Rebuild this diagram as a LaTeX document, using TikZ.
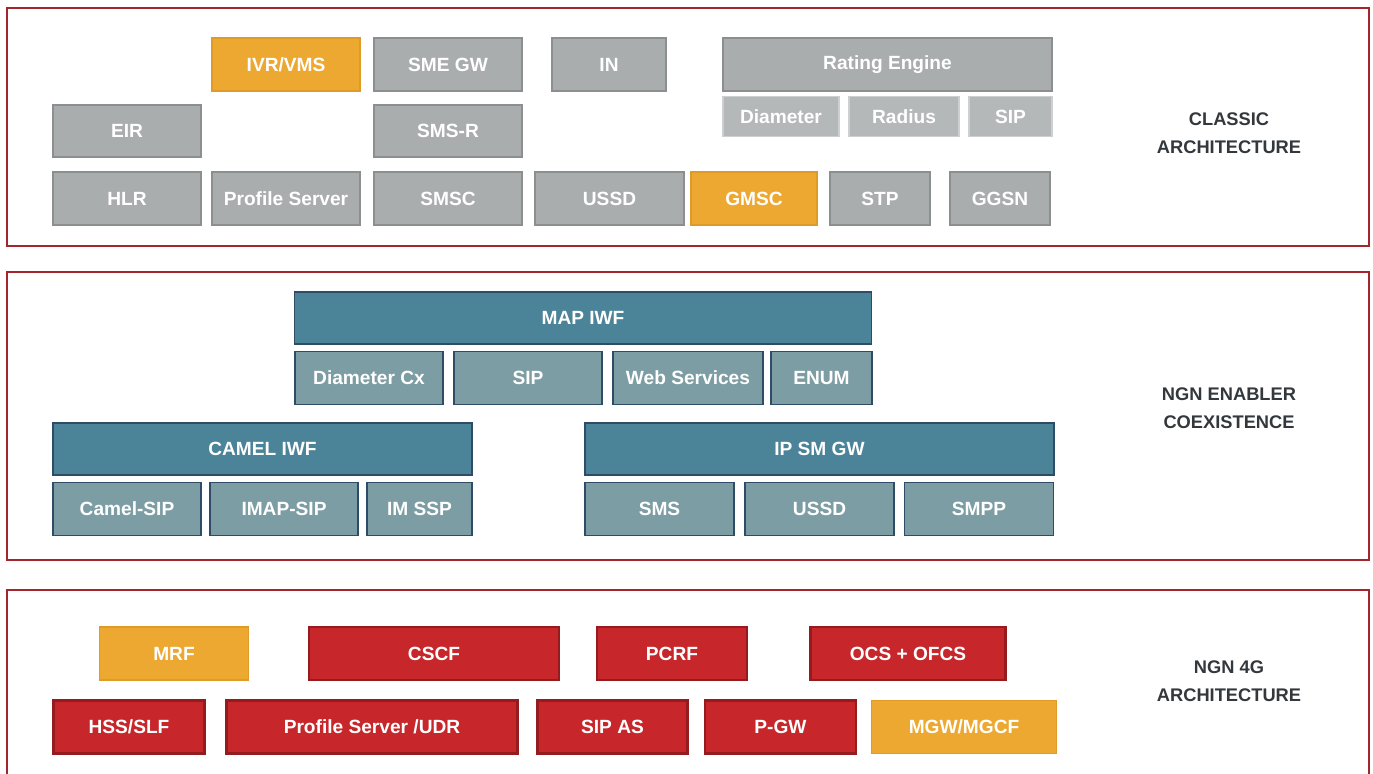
\documentclass[tikz,border=0pt]{standalone}
\usepackage{fontspec}
\setmainfont{Liberation Sans}
\usepackage{xcolor}
\usepackage{tikz}

\definecolor{gfill}{HTML}{AAADAE}
\definecolor{gline}{HTML}{8C8F90}
\definecolor{lgfill}{HTML}{B5B8B9}
\definecolor{lgline}{HTML}{CDD0D0}
\definecolor{ofill}{HTML}{EDA831}
\definecolor{oline}{HTML}{E09A26}
\definecolor{tfill}{HTML}{4B8398}
\definecolor{tline}{HTML}{2E4C66}
\definecolor{ltfill}{HTML}{7C9DA3}
\definecolor{rfill}{HTML}{C7262A}
\definecolor{rline}{HTML}{951B1F}
\definecolor{framecol}{HTML}{A2262C}
\definecolor{labcol}{HTML}{33383D}

\tikzset{
	blk/.style={draw, inner sep=0pt, text=white, line width=0.85pt,
		font=\fontsize{13.6}{16}\selectfont\bfseries,
		minimum height=53*0.025cm},
	bw/.style={minimum width=#1*0.025cm},
	bh/.style={minimum height=#1*0.025cm},
	gbox/.style={blk, fill=gfill, draw=gline},
	lgbox/.style={blk, fill=lgfill, draw=lgline, bh=40},
	obox/.style={blk, fill=ofill, draw=oline},
	tbox/.style={blk, fill=tfill, draw=tline, bh=52},
	ltbox/.style={blk, fill=ltfill, draw=tline},
	rbox/.style={blk, fill=rfill, draw=rline, line width=1.5pt},
	frame/.style={draw=framecol, line width=0.75pt},
	layer/.style={text=labcol, align=center,
		font=\fontsize{13}{19.8}\selectfont\bfseries}
}

\begin{document}
\begin{tikzpicture}[x=0.025cm, y=-0.025cm]
		\clip (0,0) rectangle (1373,774);
		\fill[white] (0,0) rectangle (1373,774);

		% classic architecture
		\draw[frame] (7,8) rectangle (1369,246);
		\path (286,64.5) node[obox, bw=148] (ivr) {IVR/VMS};
		\path (ivr) ++(162,0) node[gbox, bw=148] (smegw) {SME GW};
		\path (609,64.5) node[gbox, bw=114] (in) {IN};
		\path (887.5,64.5) node[gbox, bw=329] (rating) {Rating Engine};
		\path (781,116.5) node[lgbox, bw=116] (diam) {Diameter};
		\path (904,116.5) node[lgbox, bw=110] (radius) {Radius};
		\path (1010.5,116.5) node[lgbox, bw=83] (sipc) {SIP};
		\path (127,131) node[gbox, bw=148, bh=52] (eir) {EIR};
		\path (eir) ++(321,0) node[gbox, bw=148, bh=52] (smsr) {SMS-R};
		\path (127,198.5) node[gbox, bw=148] (hlr) {HLR};
		\path (hlr) ++(159,0) node[gbox, bw=148] (profile) {Profile Server};
		\path (profile) ++(162,0) node[gbox, bw=148] (smsc) {SMSC};
		\path (609.5,198.5) node[gbox, bw=149] (ussd) {USSD};
		\path (754,198.5) node[obox, bw=126] (gmsc) {GMSC};
		\path (880,198.5) node[gbox, bw=100] (stp) {STP};
		\path (stp) ++(120,0) node[gbox, bw=100] (ggsn) {GGSN};
		\path (1229,133) node[layer] (classic) {CLASSIC\\ARCHITECTURE};

		% ngn enabler coexistence
		\draw[frame] (7,272) rectangle (1369,560);
		\path (583,318) node[tbox, bw=577] (mapiwf) {MAP IWF};
		\path (369,378) node[ltbox, bw=148] (diamcx) {Diameter Cx};
		\path (diamcx) ++(159,0) node[ltbox, bw=148] (sipn) {SIP};
		\path (688,378) node[ltbox, bw=150] (websvc) {Web Services};
		\path (821.5,378) node[ltbox, bw=101] (enum) {ENUM};
		\path (262.5,449) node[tbox, bw=419] (camel) {CAMEL IWF};
		\path (819.5,449) node[tbox, bw=469] (ipsmgw) {IP SM GW};
		\path (127,509) node[ltbox, bw=148] (camelsip) {Camel-SIP};
		\path (camelsip) ++(157,0) node[ltbox, bw=148] (imapsip) {IMAP-SIP};
		\path (419.5,509) node[ltbox, bw=105] (imssp) {IM SSP};
		\path (659.5,509) node[ltbox, bw=149] (sms) {SMS};
		\path (sms) ++(160,0) node[ltbox, bw=149] (ussdn) {USSD};
		\path (ussdn) ++(159.5,0) node[ltbox, bw=149] (smpp) {SMPP};
		\path (1229,408) node[layer] (ngnenabler) {NGN ENABLER\\COEXISTENCE};

		% ngn 4g architecture
		\draw[frame] (7,590) rectangle (1369,800);
		\path (174,653.5) node[obox, bw=149] (mrf) {MRF};
		\path (434,653.5) node[rbox, bw=250] (cscf) {CSCF};
		\path (672,653.5) node[rbox, bw=150] (pcrf) {PCRF};
		\path (908,653.5) node[rbox, bw=195] (ocs) {OCS + OFCS};
		\path (129,727) node[rbox, bw=151] (hss) {HSS/SLF};
		\path (372,727) node[rbox, bw=291] (udr) {Profile Server /UDR};
		\path (612.5,727) node[rbox, bw=150] (sipas) {SIP AS};
		\path (sipas) ++(168,0) node[rbox, bw=151] (pgw) {P-GW};
		\path (964,727) node[obox, bw=185] (mgw) {MGW/MGCF};
		\path (1229,681) node[layer] (ngn4g) {NGN 4G\\ARCHITECTURE};
	\end{tikzpicture}
\end{document}
